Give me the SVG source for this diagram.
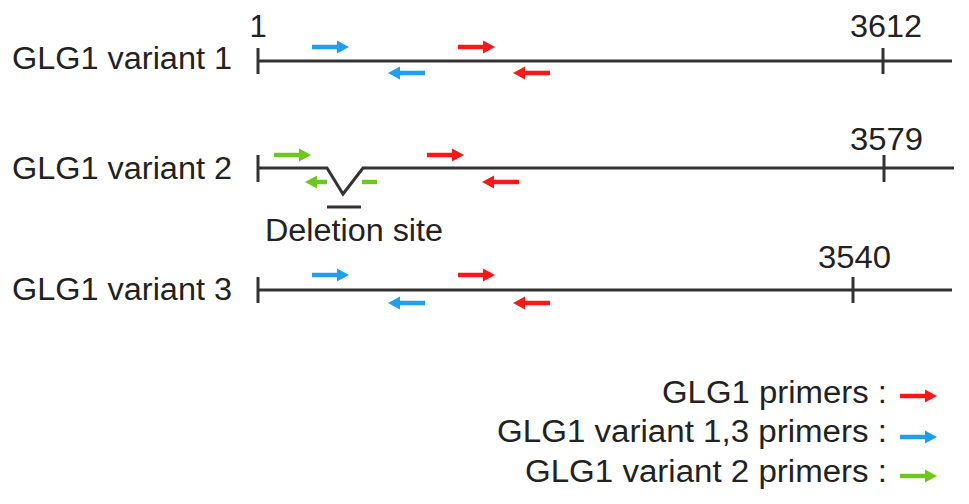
<svg xmlns="http://www.w3.org/2000/svg" width="969" height="504" viewBox="0 0 969 504">
<style>
  .bg{fill:#ffffff}
  .t{font-family:"Liberation Sans",Arial,Helvetica,sans-serif;font-size:31px;fill:#222222}
  .ln{stroke:#333333;stroke-width:3;fill:none}
  .red{fill:#ff1616}
  .blue{fill:#1f9ff0}
  .green{fill:#6cc91c}
</style>
<defs>
  <path id="ar" d="M0,-2.2 H25 V-6.5 L37,0 L25,6.5 V2.2 H0 Z"/>
  <path id="al" d="M37,-2.2 H12 V-6.5 L0,0 L12,6.5 V2.2 H37 Z"/>
  <path id="alshort" d="M22,-2.2 H12 V-6.5 L0,0 L12,6.5 V2.2 H22 Z"/>
</defs>
<rect class="bg" x="0" y="0" width="969" height="504"/>

<g id="variant1">
  <text class="t" x="12" y="69" textLength="220" lengthAdjust="spacingAndGlyphs">GLG1 variant 1</text>
  <text class="t" x="258" y="37" text-anchor="middle">1</text>
  <text class="t" x="850" y="37" textLength="72" lengthAdjust="spacingAndGlyphs">3612</text>
</g>
<g id="variant2">
  <text class="t" x="12" y="179" textLength="220" lengthAdjust="spacingAndGlyphs">GLG1 variant 2</text>
  <text class="t" x="850" y="150" textLength="73" lengthAdjust="spacingAndGlyphs">3579</text>
  <text class="t" x="265" y="241" textLength="178" lengthAdjust="spacingAndGlyphs">Deletion site</text>
</g>
<g id="variant3">
  <text class="t" x="12" y="300" textLength="220" lengthAdjust="spacingAndGlyphs">GLG1 variant 3</text>
  <text class="t" x="818" y="268" textLength="73" lengthAdjust="spacingAndGlyphs">3540</text>
</g>

<g id="connectors">
  <line class="ln" x1="258" y1="61" x2="952" y2="61"/>
  <line class="ln" x1="258" y1="48" x2="258" y2="74"/>
  <line class="ln" x1="883" y1="48" x2="883" y2="74"/>

  <polyline class="ln" points="258,168 327,168 343,194 363,168 954,168"/>
  <line class="ln" x1="258" y1="155" x2="258" y2="182"/>
  <line class="ln" x1="884" y1="155" x2="884" y2="182"/>
  <line class="ln" x1="327" y1="207" x2="361" y2="207"/>

  <line class="ln" x1="258" y1="290" x2="952" y2="290"/>
  <line class="ln" x1="258" y1="277" x2="258" y2="303"/>
  <line class="ln" x1="853" y1="277" x2="853" y2="303"/>
</g>

<g id="primers">
  <use href="#ar" class="blue" x="312" y="47"/>
  <use href="#al" class="blue" x="388" y="73"/>
  <use href="#ar" class="red" x="458" y="47"/>
  <use href="#al" class="red" x="513" y="73"/>

  <use href="#ar" class="green" x="274" y="155"/>
  <use href="#alshort" class="green" x="305" y="182"/>
  <rect class="green" x="362" y="179.8" width="15" height="4.4"/>
  <use href="#ar" class="red" x="427" y="155"/>
  <use href="#al" class="red" x="482" y="182"/>

  <use href="#ar" class="blue" x="312" y="275"/>
  <use href="#al" class="blue" x="388" y="303"/>
  <use href="#ar" class="red" x="458" y="275"/>
  <use href="#al" class="red" x="513" y="303"/>
</g>

<g id="legend">
  <text class="t" x="887" y="403" text-anchor="end" textLength="225" lengthAdjust="spacingAndGlyphs">GLG1 primers :</text>
  <use href="#ar" class="red" x="900" y="396"/>
  <text class="t" x="887" y="442" text-anchor="end" textLength="390" lengthAdjust="spacingAndGlyphs">GLG1 variant 1,3 primers :</text>
  <use href="#ar" class="blue" x="900" y="437"/>
  <text class="t" x="887" y="482" text-anchor="end" textLength="362" lengthAdjust="spacingAndGlyphs">GLG1 variant 2 primers :</text>
  <use href="#ar" class="green" x="900" y="476"/>
</g>
</svg>
